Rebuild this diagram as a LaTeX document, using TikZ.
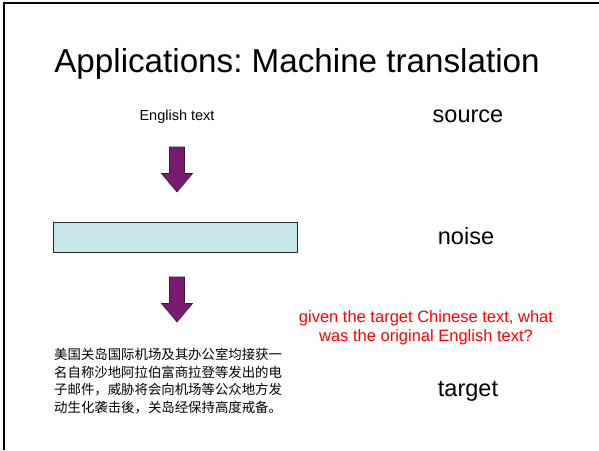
\documentclass[tikz,border=0pt]{standalone}
\usepackage{fontspec}
\usetikzlibrary{calc}
\setmainfont{Liberation Sans}
\newfontfamily\cjk{Noto Sans CJK SC}
\definecolor{arrowfill}{RGB}{122,26,115}
\definecolor{noisefill}{RGB}{197,229,232}
\definecolor{noisedraw}{RGB}{40,40,40}
\definecolor{qred}{RGB}{255,0,0}
\frenchspacing
\begin{document}
\begin{tikzpicture}[x=1pt,y=-1pt,
  label/.style={inner sep=0pt,anchor=base},
  blockarrow/.style={fill=arrowfill,draw=black!85,line width=0.6pt,line join=miter},
  noisebox/.style={draw=noisedraw,fill=noisefill,line width=0.8pt,inner sep=0pt,anchor=north west,minimum width=244pt,minimum height=30pt}]
  \useasboundingbox (0,0) rectangle (599,450);
  % slide frame: top and left edges only
  \draw[line width=2pt] (4,450) -- (4,3) -- (599,3);
  % title
  \node[label,font=\fontsize{33.2}{40}\selectfont] (title) at (297,72) {Applications: Machine translation};
  % left column
  \node[label,font=\fontsize{14.5}{17}\selectfont] (eng) at (177,120) {English text};
  \node[noisebox] (noise) at (53,222) {};
  % block arrows: shaft 15 wide, head 31 wide
  \coordinate (a1) at (177,147);
  \coordinate (a2) at (177,277);
  \foreach \c in {a1,a2}{
    \draw[blockarrow] ($(\c)+(-7.5,0)$) -- ++(15,0) -- ++(0,26.5) -- ++(8,0)
      -- ($(\c)+(0,45)$) -- ($(\c)+(-15.5,26.5)$) -- ++(8,0) -- cycle;
  }
  % Chinese target text
  \node[inner sep=0pt,anchor=north west,align=left,font=\cjk\fontsize{13.4}{17.5}\selectfont] (zh) at (54,348)
    {美国关岛国际机场及其办公室均接获一\\名自称沙地阿拉伯富商拉登等发出的电\\子邮件，威胁将会向机场等公众地方发\\动生化袭击後，关岛经保持高度戒备。};
  % right column
  \node[label,font=\fontsize{23.5}{28}\selectfont] (src) at (468,122) {source};
  \node[label,font=\fontsize{23.5}{28}\selectfont] (nse) at (466,244) {noise};
  \node[label,font=\fontsize{23.5}{28}\selectfont] (tgt) at (468,396) {target};
  \node[label,font=\fontsize{16.5}{19}\selectfont,text=qred] (q1) at (426,322) {given the target Chinese text, what};
  \node[label,font=\fontsize{16.5}{19}\selectfont,text=qred] (q2) at (426,341) {was the original English text?};
\end{tikzpicture}
\end{document}
